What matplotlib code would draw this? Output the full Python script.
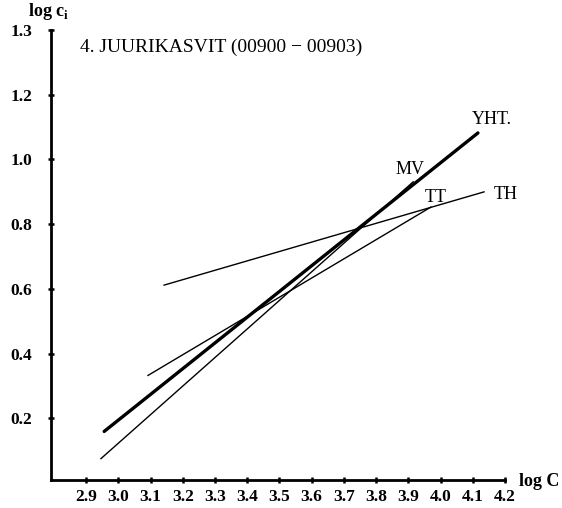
import matplotlib
matplotlib.use("Agg")
import matplotlib.pyplot as plt

# Data: regression line endpoints (log C, log c_i)
series_names = ["YHT.", "MV", "TT", "TH"]
yht_x = [2.956, 4.116]
yht_y = [0.160, 1.082]
mv_x = [2.946, 3.915]
mv_y = [0.076, 0.931]
tt_x = [3.092, 3.970]
tt_y = [0.333, 0.853]
th_x = [3.142, 4.135]
th_y = [0.612, 0.900]

xticks = [2.9, 3.0, 3.1, 3.2, 3.3, 3.4, 3.5, 3.6, 3.7, 3.8, 3.9, 4.0, 4.1, 4.2]
xtick_labels = ["2.9", "3.0", "3.1", "3.2", "3.3", "3.4", "3.5", "3.6", "3.7", "3.8", "3.9", "4.0", "4.1", "4.2"]
yticks = [0.2, 0.4, 0.6, 0.8, 1.0, 1.2, 1.4]
ytick_labels = ["0.2", "0.4", "0.6", "0.8", "1.0", "1.2", "1.3"]

title = "4. JUURIKASVIT (00900 \u2212 00903)"

serif = ["Liberation Serif", "DejaVu Serif"]

fig = plt.figure(figsize=(5.62, 5.08), dpi=100)
ax = fig.add_axes([51/562, 28/508, (505-51)/562, (480-30)/508])
ax.set_xlim(2.791, 4.2)
ax.set_ylim(0.01, 1.4)

ax.plot(yht_x, yht_y, color="black", lw=2.4, solid_capstyle="round")
ax.plot(mv_x, mv_y, color="black", lw=1.0)
ax.plot(tt_x, tt_y, color="black", lw=1.0)
ax.plot(th_x, th_y, color="black", lw=1.0)

for s in ["top", "right"]:
    ax.spines[s].set_visible(False)
for s in ["left", "bottom"]:
    ax.spines[s].set_linewidth(2.0)

ax.set_xticks(xticks)
ax.set_xticklabels(xtick_labels, fontfamily=serif, fontweight="bold", fontsize=12.5)
ax.set_yticks(yticks)
ax.set_yticklabels(ytick_labels, fontfamily=serif, fontweight="bold", fontsize=12.5)
ax.tick_params(axis="both", direction="inout", length=5, width=1.8, color="black")
ax.tick_params(axis="x", pad=4)
ax.tick_params(axis="y", pad=11)

# line labels
lab_kw = dict(fontfamily=serif, fontsize=13, va="center", ha="center", color="black")
ax.text(4.160, 1.123, series_names[0], **lab_kw)
ax.text(3.905, 0.968, series_names[1], **lab_kw)
ax.text(3.986, 0.883, series_names[2], **lab_kw)
ax.text(4.203, 0.893, series_names[3], **lab_kw)

# title inside plot
fig.text(80/562, 1 - 47/508, title, fontfamily=serif, fontsize=14, va="center", ha="left")

# axis labels
fig.text(519/562, 1 - 482/508, "log C", fontfamily=serif, fontweight="bold", fontsize=13, va="center", ha="left")
fig.text(28/562, 1 - 12/508, "log c$_\\mathregular{i}$", fontfamily=serif, fontweight="bold", fontsize=13, va="center", ha="left")

fig.savefig("out.png", dpi=100)
